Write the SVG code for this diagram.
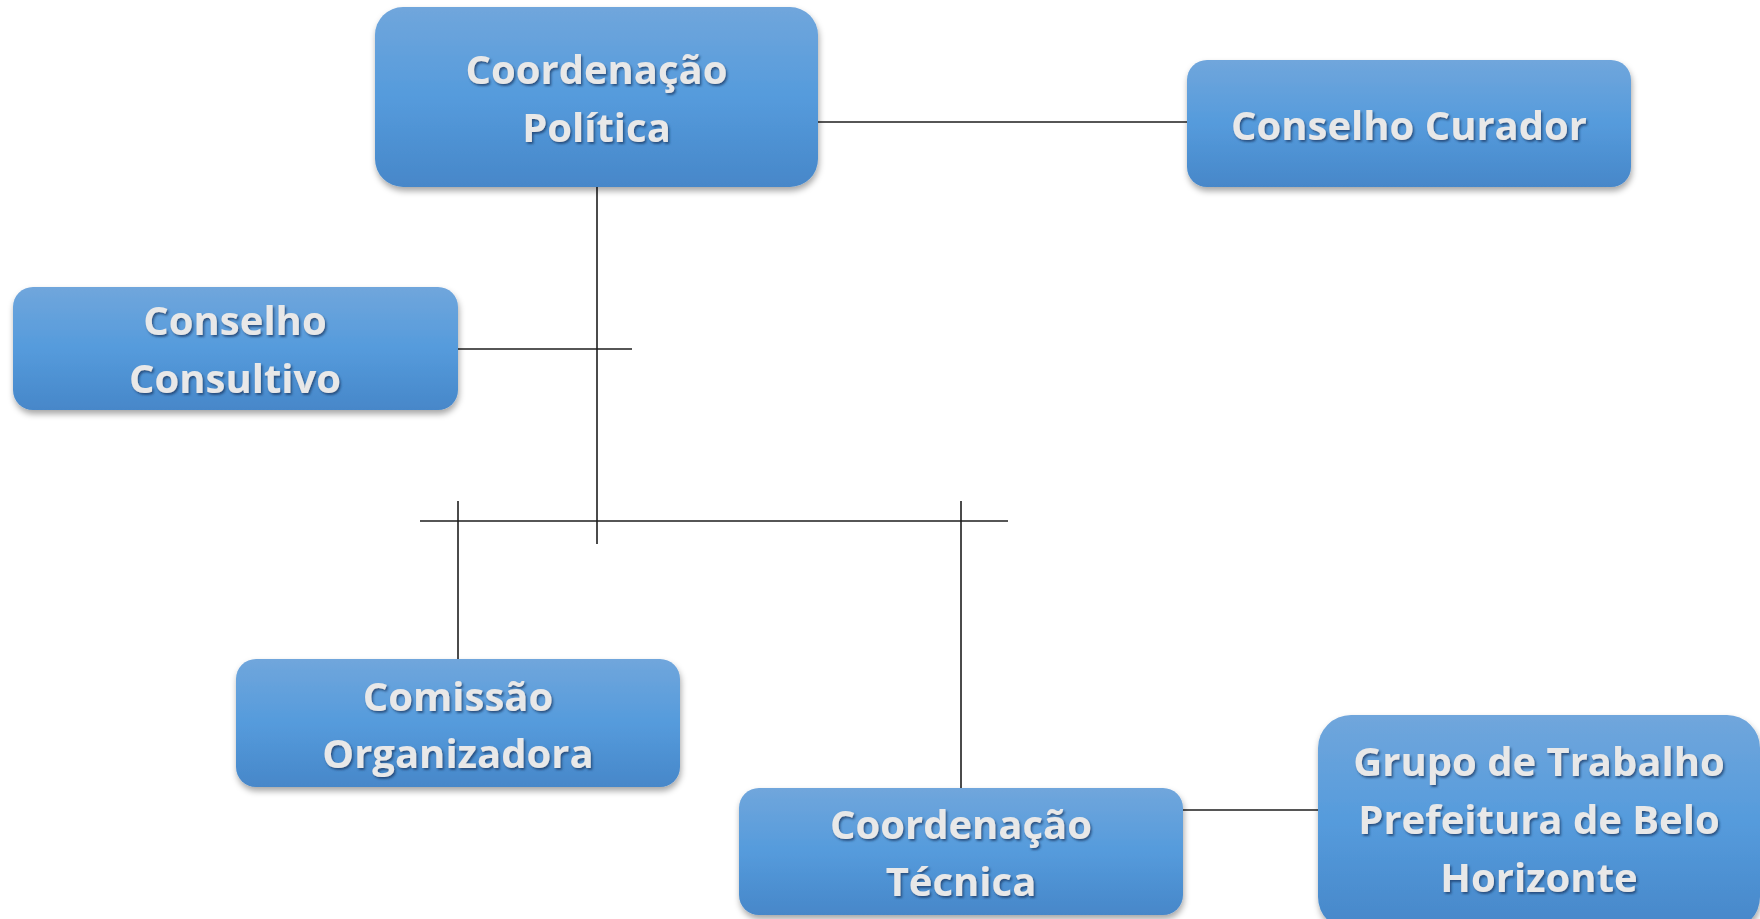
<svg xmlns="http://www.w3.org/2000/svg" width="1760" height="919" viewBox="0 0 1760 919">
<defs>
<linearGradient id="boxGrad" x1="0" y1="0" x2="0" y2="1">
<stop offset="0" stop-color="#70a6dc"/>
<stop offset="0.5" stop-color="#559bdc"/>
<stop offset="1" stop-color="#4787c9"/>
</linearGradient>
<filter id="boxShadow" x="-10%" y="-10%" width="120%" height="130%">
<feDropShadow dx="1" dy="4" stdDeviation="3" flood-color="#000" flood-opacity="0.35"/>
</filter>
<filter id="textShadow" x="-10%" y="-20%" width="120%" height="150%">
<feDropShadow dx="1.5" dy="2" stdDeviation="1.2" flood-color="#1b3a66" flood-opacity="0.75"/>
</filter>
</defs>
<style>
.box{fill:url(#boxGrad);filter:url(#boxShadow);}
.lbl{font-family:"Open Sans","Liberation Sans",sans-serif;font-weight:bold;font-size:40px;fill:#e8e8e8;text-anchor:middle;filter:url(#textShadow);}
.conn line{stroke:#1e1e1e;stroke-width:1.6;fill:none;}
</style>
<rect width="1760" height="919" fill="#ffffff"/>
<g id="connectors" class="conn">
<line x1="818" y1="122" x2="1187" y2="122"/>
<line x1="597" y1="187" x2="597" y2="544"/>
<line x1="458" y1="349" x2="632" y2="349"/>
<line x1="420" y1="521" x2="1008" y2="521"/>
<line x1="458" y1="501" x2="458" y2="660"/>
<line x1="961" y1="501" x2="961" y2="788"/>
<line x1="1183" y1="810" x2="1318" y2="810"/>
</g>
<g id="coordenacao-politica">
<rect class="box" x="375" y="7" width="443" height="180" rx="28"/>
<text class="lbl" x="596.5" y="84">Coordenação</text>
<text class="lbl" x="596.5" y="142">Política</text>
</g>
<g id="conselho-curador">
<rect class="box" x="1187" y="60" width="444" height="127" rx="20"/>
<text class="lbl" x="1409" y="140">Conselho Curador</text>
</g>
<g id="conselho-consultivo">
<rect class="box" x="13" y="287" width="445" height="123" rx="20"/>
<text class="lbl" x="235" y="335">Conselho</text>
<text class="lbl" x="235" y="393">Consultivo</text>
</g>
<g id="comissao-organizadora">
<rect class="box" x="236" y="659" width="444" height="128" rx="20"/>
<text class="lbl" x="458" y="711">Comissão</text>
<text class="lbl" x="458" y="768">Organizadora</text>
</g>
<g id="coordenacao-tecnica">
<rect class="box" x="739" y="788" width="444" height="127" rx="20"/>
<text class="lbl" x="961" y="839">Coordenação</text>
<text class="lbl" x="961" y="896">Técnica</text>
</g>
<g id="grupo-trabalho">
<rect class="box" x="1318" y="715" width="442" height="215" rx="33"/>
<text class="lbl" x="1539" y="776">Grupo de Trabalho</text>
<text class="lbl" x="1539" y="834">Prefeitura de Belo</text>
<text class="lbl" x="1539" y="892">Horizonte</text>
</g>
</svg>
